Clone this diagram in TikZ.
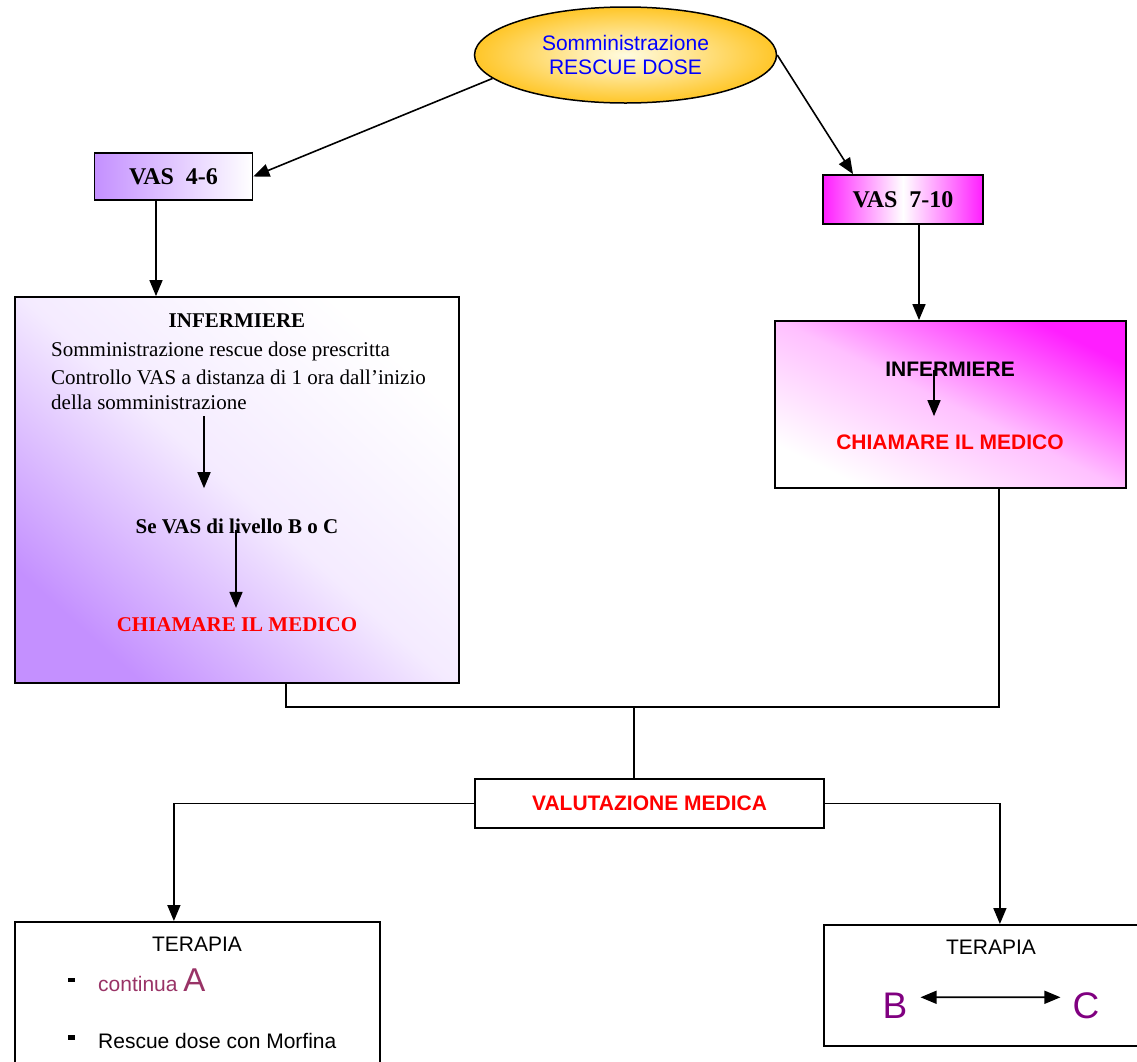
\documentclass[tikz,border=0pt]{standalone}
\usepackage{fontspec}
\setmainfont{Liberation Serif}
\newfontfamily\arialfont{Liberation Sans}
\usepackage{tikz}
\usetikzlibrary{shapes.geometric, positioning, calc, arrows.meta}

\definecolor{lavanda}{RGB}{196,144,255}
\definecolor{fucsia}{RGB}{255,30,255}
\definecolor{oro}{RGB}{255,198,40}
\definecolor{crema}{RGB}{255,252,225}
\definecolor{prugna}{RGB}{153,51,102}
\definecolor{viola}{RGB}{128,0,128}

\newcommand{\dimf}[1]{\fontsize{#1}{#1}\selectfont}

\begin{document}
\begin{tikzpicture}[x=1pt, y=-1pt, >={Triangle[length=16pt,width=13pt]},
    box/.style={draw, line width=1.8pt, rectangle, inner sep=0pt},
    txt/.style={inner sep=0pt, anchor=base},
    riga/.style={inner sep=0pt, anchor=base west, font=\dimf{21}},
    arial/.style={font=\arialfont\dimf{21}},
    arialb/.style={font=\arialfont\bfseries\dimf{21}},
    freccia/.style={->, line width=1.6pt},
    linea/.style={line width=1.1pt}]

        \useasboundingbox (0,0) rectangle (1137,1061);

        %\draw[help lines, step=50] (0,0) grid (1137,1061);

        \node[ellipse, draw, line width=1.5pt, minimum width=302, minimum height=96, inner sep=0pt,
              inner color=crema, outer color=oro, align=center, text=blue,
              font=\arialfont\fontsize{21}{23.4}\selectfont] (rescue) at (625.5,55) {Somministrazione\\RESCUE DOSE};

        \node[box, minimum width=158, minimum height=47, left color=lavanda, right color=white,
              font=\bfseries\dimf{24}] (vas46) at (173.5,176.5) {VAS\ \ 4-6};
        \node[box, minimum width=160, minimum height=49, left color=fucsia, right color=fucsia, middle color=white,
              font=\bfseries\dimf{24}] (vas710) at (903,199.5) {VAS\ \ 7-10};

        % box infermiere
        \node[box, minimum width=444, minimum height=386, bottom color=lavanda, top color=white,
              middle color=lavanda!18, shading angle=-42] (boxl) at (237,490) {};
        \node[box, minimum width=351, minimum height=167, top color=fucsia, bottom color=white,
              middle color=fucsia!28, shading angle=-26] (boxr) at (950.5,404.5) {};

        \node[txt, font=\bfseries\dimf{21}] (infl) at (237,327) {INFERMIERE};
        \node[riga] (l1) at (51,356) {Somministrazione rescue dose prescritta};
        \node[riga] (l2) at (51,384) {Controllo VAS a distanza di 1 ora dall’inizio};
        \node[riga] (l3) at (51,409) {della somministrazione};
        \node[txt, font=\bfseries\dimf{21}] (se) at (237,533) {Se VAS di livello B o C};
        \node[txt, font=\bfseries\dimf{21}, text=red] (chl) at (237,631) {CHIAMARE IL MEDICO};

        \node[txt, arialb] (infr) at (950,376) {INFERMIERE};
        \node[txt, arialb, text=red] (chr) at (950,449) {CHIAMARE IL MEDICO};

        \node[box, minimum width=349, minimum height=49, arialb, text=red] (valut) at (649.5,803.5) {VALUTAZIONE MEDICA};

        % terapie
        \node[box, anchor=north west, minimum width=365, minimum height=170] (terl) at (14,921) {};
        \node[box, anchor=north west, minimum width=360, minimum height=121] (terr) at (823,924) {};

        \node[txt, arial] (tera) at (197,951) {TERAPIA};
        \node[fill, minimum width=7, minimum height=4, inner sep=0pt] (pun1) at (71.5,980) {};
        \node[riga, arial, text=prugna] (cont) at (98,991) {continua~{\dimf{33}A}};
        \node[fill, minimum width=7, minimum height=5, inner sep=0pt] (pun2) at (71.5,1037.5) {};
        \node[riga, arial] (resc) at (98,1048) {Rescue dose con Morfina};

        \node[txt, arial] (terb) at (991,954) {TERAPIA};
        \node[txt, font=\arialfont\dimf{37}, text=viola] (lb) at (895,1018) {B};
        \node[txt, font=\arialfont\dimf{37}, text=viola] (lc) at (1086,1018) {C};

        % frecce
        \draw[freccia] (rescue.190) -- (vas46.east);
        \draw[freccia] (rescue.east) -- ([xshift=-50pt]vas710.north);
        \draw[freccia] ([xshift=-17.5pt]vas46.south) -- ([xshift=-17.5pt]vas46.south |- boxl.north);
        \draw[freccia] ([xshift=16pt]vas710.south) -- ([xshift=16pt]vas710.south |- boxr.north);

        \draw[freccia, shorten <=7pt, shorten >=30pt] ([xshift=-33pt]se.north |- l3.south) -- ([xshift=-33pt]se.north);
        \draw[freccia, shorten <=-4pt, shorten >=9pt] ([xshift=-1pt]se.south) -- ([xshift=-1pt]chl.north);
        \draw[freccia, shorten <=-6pt, shorten >=18pt] ([xshift=-16pt]infr.south) -- ([xshift=-16pt]infr.south |- chr.north);

        \coordinate (unione) at (634,707);
        \draw[linea] ([xshift=49pt]boxl.south) |- (unione) -| ([xshift=48.5pt]boxr.south);
        \draw[linea] (unione) -- (unione |- valut.north);
        \draw[freccia] (valut.west) -| ([xshift=-23.5pt]terl.north);
        \draw[freccia] (valut.east) -| ([xshift=-4pt]terr.north);

        \draw[<->, line width=1.6pt, shorten <=13pt, shorten >=12pt] ([yshift=8pt]lb.east) -- ([yshift=8pt]lc.west);
      \end{tikzpicture}
\end{document}
